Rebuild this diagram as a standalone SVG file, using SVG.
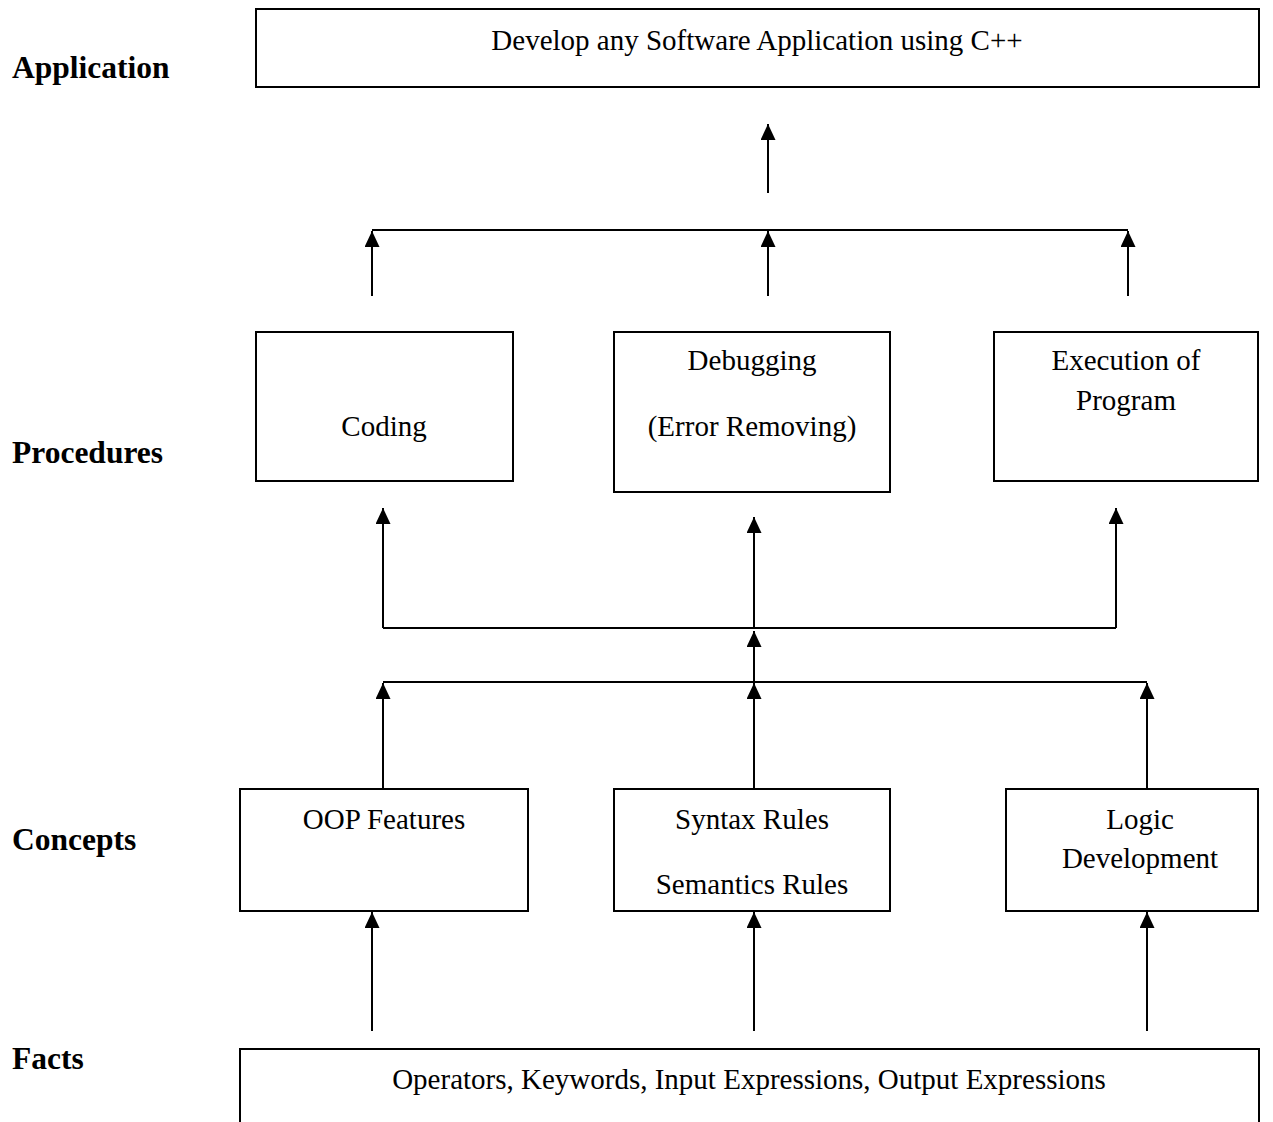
<svg xmlns="http://www.w3.org/2000/svg" width="1273" height="1122" viewBox="0 0 1273 1122">
<defs>
<marker id="ah" viewBox="0 0 16 15" refX="16" refY="7.5" markerWidth="16" markerHeight="15" markerUnits="userSpaceOnUse" orient="auto-start-reverse">
<path d="M0,0 L16,7.5 L0,15 Z" fill="#000"/>
</marker>
<style>
.box{fill:#fff;stroke:#000;stroke-width:2}
.t{font-family:"Liberation Serif","Times New Roman",serif;font-size:29px;fill:#000;text-anchor:middle}
.lbl{font-family:"Liberation Serif","Times New Roman",serif;font-size:31.5px;font-weight:bold;fill:#000}
.ln{stroke:#000;stroke-width:2;fill:none}
.ar{stroke:#000;stroke-width:2;fill:none;marker-start:url(#ah)}
</style>
</defs>
<rect width="1273" height="1122" fill="#fff"/>
<g id="labels">
<text class="lbl" x="12" y="78">Application</text>
<text class="lbl" x="12" y="463">Procedures</text>
<text class="lbl" x="12" y="850">Concepts</text>
<text class="lbl" x="12" y="1069">Facts</text>
</g>
<g id="app">
<rect class="box" x="256" y="9" width="1003" height="78"/>
<text class="t" x="757" y="50">Develop any Software Application using C++</text>
</g>
<g id="coding">
<rect class="box" x="256" y="332" width="257" height="149"/>
<text class="t" x="384" y="436">Coding</text>
</g>
<g id="debugging">
<rect class="box" x="614" y="332" width="276" height="160"/>
<text class="t" x="752" y="370">Debugging</text>
<text class="t" x="752" y="436">(Error Removing)</text>
</g>
<g id="execution">
<rect class="box" x="994" y="332" width="264" height="149"/>
<text class="t" x="1126" y="370">Execution of</text>
<text class="t" x="1126" y="410">Program</text>
</g>
<g id="oop">
<rect class="box" x="240" y="789" width="288" height="122"/>
<text class="t" x="384" y="829">OOP Features</text>
</g>
<g id="syntax">
<rect class="box" x="614" y="789" width="276" height="122"/>
<text class="t" x="752" y="829">Syntax Rules</text>
<text class="t" x="752" y="894">Semantics Rules</text>
</g>
<g id="logic">
<rect class="box" x="1006" y="789" width="252" height="122"/>
<text class="t" x="1140" y="829">Logic</text>
<text class="t" x="1140" y="868">Development</text>
</g>
<g id="facts">
<path class="box" d="M240,1122 L240,1049 L1259,1049 L1259,1122"/>
<text class="t" x="749" y="1089">Operators, Keywords, Input Expressions, Output Expressions</text>
</g>
<g id="connectors">
<path class="ar" d="M768,124 L768,193"/>
<path class="ln" d="M372,230 L1128,230"/>
<path class="ar" d="M372,231 L372,296"/>
<path class="ar" d="M768,231 L768,296"/>
<path class="ar" d="M1128,231 L1128,296"/>
<path class="ar" d="M383,508 L383,628"/>
<path class="ar" d="M754,517 L754,628"/>
<path class="ar" d="M1116,508 L1116,628"/>
<path class="ln" d="M383,628 L1116,628"/>
<path class="ar" d="M754,631 L754,682"/>
<path class="ln" d="M383,682 L1147,682"/>
<path class="ar" d="M383,683 L383,789"/>
<path class="ar" d="M754,683 L754,789"/>
<path class="ar" d="M1147,683 L1147,789"/>
<path class="ar" d="M372,912 L372,1031"/>
<path class="ar" d="M754,912 L754,1031"/>
<path class="ar" d="M1147,912 L1147,1031"/>
</g>
</svg>
